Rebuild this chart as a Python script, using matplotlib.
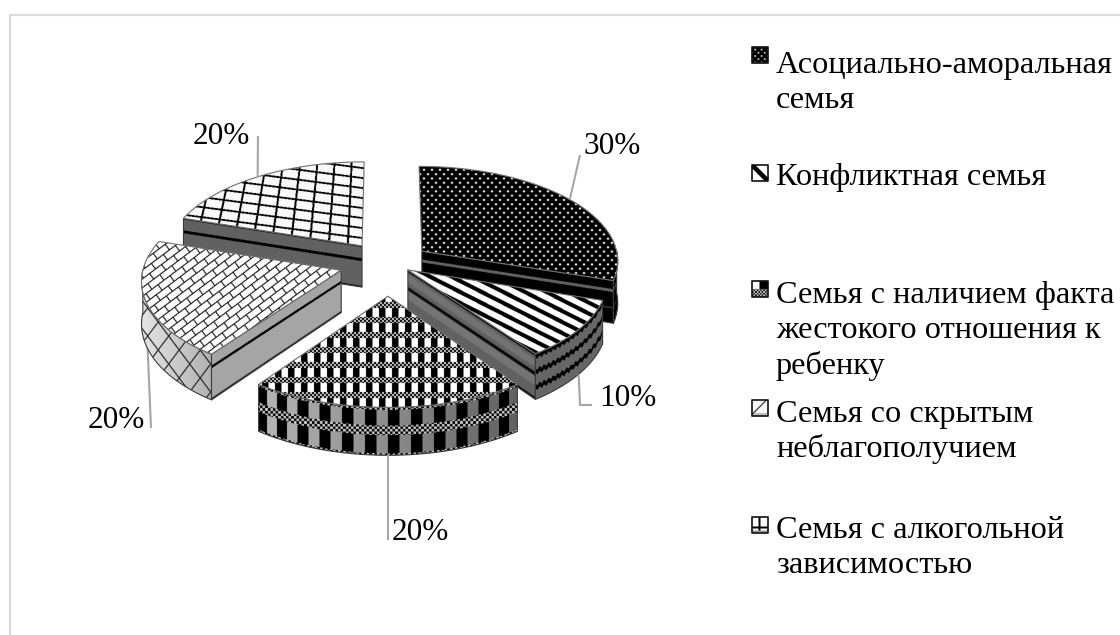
import numpy as np
import matplotlib
matplotlib.use("Agg")
import matplotlib.pyplot as plt
from matplotlib.patches import Polygon

# chart data
categories = ["Асоциально-аморальная\nсемья",
              "Конфликтная семья",
              "Семья с наличием факта\nжестокого отношения к\nребенку",
              "Семья со скрытым\nнеблагополучием",
              "Семья с алкогольной\nзависимостью"]
values = [30, 10, 20, 20, 20]

# how far each slice is pulled out of the pie
explode = [0.215, 0.124, 0.34, 0.248, 0.228]

# camera used to project the pie to the canvas
CX, CY = 388, 263
RX, RY = 197, 94.6
DEPTH = 42
PERSP = 0.0913
INK = "#3a3a3a"
LEADER = "#a6a6a6"
SERIF = "Liberation Serif"


def project(x, y, z=0.0):
    w = 1 + PERSP * y
    return CX + RX * x / w, CY - (RY * y - DEPTH * z) / w


def direction(a):
    r = np.radians(a)
    return np.sin(r), np.cos(r)


fig = plt.figure(figsize=(11.2, 6.35), dpi=100)
ax = fig.add_axes([0, 0, 1, 1])
ax.set_xlim(0, 1120)
ax.set_ylim(635, 0)
ax.autoscale(False)
ax.axis("off")

# chart frame, runs off the right and bottom of the canvas
ax.plot([9.5, 9.5, 1120], [635, 14.5, 14.5], color="#dcdcdc", lw=1.6, zorder=1)

order = [0]


def paint(poly, shade, edge=INK, lw=0.8):
    # fill a polygon with a greyscale pattern computed per pixel
    poly = np.asarray(poly)
    x0, y0 = np.floor(poly.min(axis=0)) - 1
    x1, y1 = np.ceil(poly.max(axis=0)) + 1
    xs = np.arange(x0, x1, 0.5) + 0.25
    ys = np.arange(y0, y1, 0.5) + 0.25
    X, Y = np.meshgrid(xs, ys)
    order[0] += 1
    im = ax.imshow(shade(X, Y), extent=(x0, x1, y1, y0), cmap="gray", vmin=0, vmax=1,
                   interpolation="hanning", aspect="auto", zorder=order[0] + 2)
    clip = Polygon(poly, closed=True, fc="none", ec=edge, lw=lw, zorder=order[0] + 2.5,
                   joinstyle="round")
    ax.add_patch(clip)
    im.set_clip_path(clip)


def wall_shade(top, bottom, func):
    # gives func a 0..1 coordinate running from the wall's top edge to its bottom edge
    idx = np.argsort(top[:, 0])
    def shade(X, Y):
        yt = np.interp(X, top[idx, 0], top[idx, 1])
        yb = np.interp(X, bottom[idx, 0], bottom[idx, 1])
        return func(X, Y, (Y - yt) / np.maximum(yb - yt, 1e-3))
    return shade


# patterns of the slice tops
def dots(X, Y, a=8.0, b=4.3, r=1.6):
    row = np.floor(Y / b)
    dx = ((X + (row % 2) * a / 2) % a) - a / 2
    dy = (Y % b) - b / 2
    return np.clip((r - np.hypot(dx, dy * 1.1)) / 0.8, 0, 1) * 0.95


def diagonal(X, Y):
    return np.where((Y - 0.51 * X) % 11 < 4.6, 0.0, 1.0)


def checker(X, Y, cell=2.0, light=0.8):
    return np.where((np.floor(X / cell) + np.floor(Y / cell)) % 2 == 0, 0.0, light)


def tartan(X, Y):
    rects = np.where((X - 340) % 13 < 6.5, 0.0, 1.0)
    return np.where((Y - 347) % 15 < 6, checker(X, Y), rects)


def bricks(X, Y):
    p = X * 0.8 - Y * 0.6
    q = X * 0.6 + Y * 0.8
    row = np.floor(q / 7)
    lines = (q % 7 < 1.1) | ((p + row * 7.5) % 15 < 1.1)
    return np.where(lines, 0.08, 1.0)


def lattice(X, Y):
    u = (X - 385) / (Y + 560) / 0.0237
    lines = (u % 1 < 0.11) | ((Y - 0.13 * X) % 10 < 1.8)
    return np.where(lines, 0.0, 0.98)


# patterns of the walls
def wall_black(X, Y, v):
    out = np.zeros_like(X)
    out[(v > 0.2) & (v < 0.27)] = 0.38
    out[(v > 0.62) & (v < 0.66)] = 0.2
    return out


def wall_bands(X, Y, v):
    out = np.full_like(X, 0.38)
    out[(v > 0.12) & (v < 0.3)] = 0.45
    out[(v > 0.5) & (v < 0.7)] = 0.46
    out[(v < 0.05) | (v > 0.95) | ((v > 0.4) & (v < 0.48))] = 0.05
    return out


def wall_waves(X, Y, v):
    wave = 0.025 * np.sin(X * 1.4)
    return np.where((v + wave) % 0.34 < 0.1, 0.0, 0.4)


def wall_tartan(X, Y, v):
    grey = np.clip(0.72 - 0.34 * (X - 257) / 260, 0, 1)
    col = np.degrees(np.arcsin(np.clip((X - CX) / 222, -1, 1))) % 6 < 3
    out = np.where(col, 0.0, grey)
    band = (np.abs(v - 0.48) < 0.1) | (v < 0.05) | (v > 0.96)
    return np.where(band, checker(X, Y, 2.6, 0.78), out)


def wall_diamonds(X, Y, v):
    grey = np.clip(0.9 - 0.2 * (X - 140) / 70, 0, 1)
    lines = ((X + 0.75 * Y) % 21 < 1.4) | ((X - 0.75 * Y) % 21 < 1.4)
    return np.where(lines, 0.1, grey)


def wall_light(X, Y, v):
    out = np.full_like(X, 0.65)
    out[(v > 0.25) & (v < 0.31)] = 0.0
    out[v > 0.96] = 0.15
    return out


def wall_dark(X, Y, v):
    out = np.full_like(X, 0.38)
    out[(v > 0.3) & (v < 0.37)] = 0.0
    out[(v < 0.03) | (v > 0.97)] = 0.05
    return out


tops = [dots, diagonal, tartan, bricks, lattice]
sides = [wall_black, wall_bands, None, wall_light, wall_dark]
arcs = [wall_black, wall_waves, wall_tartan, wall_diamonds, None]

edges = np.cumsum([0] + values) * 3.6
geometry = []
for i, val in enumerate(values):
    a0, a1 = edges[i], edges[i + 1]
    mid = (a0 + a1) / 2
    mx, my = direction(mid)
    ox, oy = explode[i] * mx, explode[i] * my
    geometry.append((a0, a1, mid, ox, oy))


def rim(a0, a1, ox, oy, z, n=60):
    ang = np.linspace(a0, a1, n)
    dx, dy = direction(ang)
    return np.column_stack(project(ox + dx, oy + dy, z))


def draw_slice(i):
    a0, a1, mid, ox, oy = geometry[i]
    apex = np.array(project(ox, oy))
    apex_low = np.array(project(ox, oy, 1))
    # radial wall turned towards the viewer
    for ang, seen in ((a1, np.cos(np.radians(a1 + 90)) < -1e-6),
                      (a0, np.cos(np.radians(a0 - 90)) < -1e-6)):
        if seen and sides[i] is not None:
            top = np.vstack([apex, rim(ang, ang, ox, oy, 0, 1)])
            low = np.vstack([apex_low, rim(ang, ang, ox, oy, 1, 1)])
            paint(np.vstack([top, low[::-1]]), wall_shade(top, low, sides[i]))
    # outer wall, only the front half of the circle shows
    lo, hi = max(a0, 90), min(a1, 270)
    if hi > lo and arcs[i] is not None:
        top = rim(lo, hi, ox, oy, 0)
        low = rim(lo, hi, ox, oy, 1)
        paint(np.vstack([top, low[::-1]]), wall_shade(top, low, arcs[i]))
    paint(np.vstack([apex, rim(a0, a1, ox, oy, 0)]), tops[i], edge="#707070")


for i in [0, 4, 1, 3, 2]:
    draw_slice(i)


def rim_point(i, z):
    a0, a1, mid, ox, oy = geometry[i]
    return rim(mid, mid, ox, oy, z, 1)[0]


# percentage labels with their leader lines
def label(i, z, path, pos, ha):
    start = rim_point(i, z)
    pts = np.vstack([start, path])
    ax.plot(pts[:, 0], pts[:, 1], color=LEADER, lw=1.5, zorder=2 if i == 3 else 30,
            solid_capstyle="butt")
    ax.text(pos[0], pos[1], "%d%%" % values[i], family=SERIF, fontsize=22.5, color="black",
            ha=ha, va="center", zorder=31)


label(0, 0, [(580, 155)], (583, 147), "left")
label(1, 1, [(580, 405), (592, 405)], (599, 399), "left")
label(2, 1, [(388, 540)], (392, 532), "left")
label(3, 0, [(151, 428)], (145, 421), "right")
label(4, 0, [(258, 136)], (250, 137), "right")


# legend keys, drawn a little larger than the pattern cell would be
def key_dots(X, Y):
    return dots(X, Y, a=6.4, b=3.2, r=1.3)


def key_stripe(cx, cy):
    def shade(X, Y):
        u = np.abs((X - cx) - (Y - cy))
        return np.where(u < 3.2, 0.0, 1.0)
    return shade


def key_mixed(cx, cy):
    def shade(X, Y):
        out = np.where(X > cx, 0.0, 1.0)
        return np.where(Y > cy, checker(X, Y, 1.6, 0.85), out)
    return shade


def key_diamond(cx, cy):
    def shade(X, Y):
        u = np.abs((X - cx) + (Y - cy) + 1)
        out = np.full_like(X, 0.97)
        out[Y > cy + 5] = 0.75
        return np.where(u < 1.0, 0.1, out)
    return shade


def key_cross(cx, cy):
    def shade(X, Y):
        out = np.full_like(X, 1.0)
        out[(np.abs(X - cx) < 0.9) | (np.abs(Y - cy - 3) < 0.9)] = 0.0
        out[Y > cy + 6] = 0.6
        return out
    return shade


key_x = 759.5
key_y = [55, 172.5, 289, 408, 524.5]
text_y = [83, 177, 331, 432, 548]
keys = [key_dots, key_stripe(key_x, key_y[1]), key_mixed(key_x, key_y[2]),
        key_diamond(key_x, key_y[3]), key_cross(key_x, key_y[4])]
for i, name in enumerate(categories):
    s = 8.0
    box = [(key_x - s, key_y[i] - s), (key_x + s, key_y[i] - s),
           (key_x + s, key_y[i] + s), (key_x - s, key_y[i] + s)]
    paint(box, keys[i], edge="#111111", lw=1.2)
    ax.text(776, text_y[i], name, family=SERIF, fontsize=23.3, color="black",
            ha="left", va="center", linespacing=1.26, zorder=31)

fig.savefig("out.png", dpi=100)
